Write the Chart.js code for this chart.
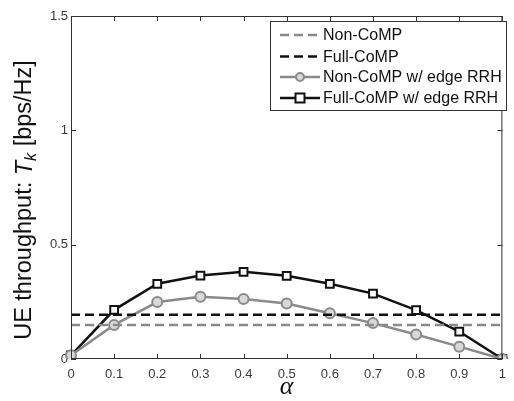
<!DOCTYPE html>
<html>
<head>
<meta charset="utf-8">
<script src="https://cdn.jsdelivr.net/npm/chart.js@4"></script>
<style>
  html, body { margin: 0; padding: 0; background: #fff; }
  #wrap { width: 514px; height: 401px; }
</style>
</head>
<body>
<div id="wrap"><canvas id="c" width="514" height="401"></canvas></div>
<script>
// alpha values along the x axis
const alphas = ['0', '0.1', '0.2', '0.3', '0.4', '0.5', '0.6', '0.7', '0.8', '0.9', '1'];
const yTickLabels = { 0: '0', 0.5: '0.5', 1: '1', 1.5: '1.5' };

// UE throughput T_k [bps/Hz]
const nonCoMP = [0.149, 0.149, 0.149, 0.149, 0.149, 0.149, 0.149, 0.149, 0.149, 0.149, 0.149];
const fullCoMP = [0.193, 0.193, 0.193, 0.193, 0.193, 0.193, 0.193, 0.193, 0.193, 0.193, 0.193];
const nonCoMPEdge = [0.016, 0.149, 0.249, 0.272, 0.262, 0.243, 0.200, 0.157, 0.107, 0.054, 0.0];
const fullCoMPEdge = [0.016, 0.215, 0.329, 0.365, 0.381, 0.364, 0.329, 0.286, 0.214, 0.120, 0.0];

const GRAY = '#8a8a8a';
const BLACK = '#111111';
const FONT = "'Liberation Sans', Arial, sans-serif";

// frame, inward tick marks, axis titles and boxed legend
const matlabFrame = {
  id: 'matlabFrame',
  afterDraw(chart) {
    const { ctx, chartArea: a, scales } = chart;
    const xs = scales.x, ys = scales.y;
    ctx.save();
    ctx.strokeStyle = '#333';
    ctx.lineWidth = 1;
    ctx.strokeRect(a.left + 0.5, a.top + 0.5, a.right - a.left - 1, a.bottom - a.top - 1);
    const tl = 5;
    ctx.beginPath();
    alphas.forEach((_, i) => {
      const px = Math.round(xs.getPixelForValue(i)) + 0.5;
      ctx.moveTo(px, a.bottom); ctx.lineTo(px, a.bottom - tl);
      ctx.moveTo(px, a.top); ctx.lineTo(px, a.top + tl);
    });
    Object.keys(yTickLabels).forEach(v => {
      const py = Math.round(ys.getPixelForValue(+v)) + 0.5;
      ctx.moveTo(a.left, py); ctx.lineTo(a.left + tl, py);
      ctx.moveTo(a.right, py); ctx.lineTo(a.right - tl, py);
    });
    ctx.stroke();

    // y axis title: UE throughput: T_k [bps/Hz]
    ctx.save();
    ctx.translate(25, 200);
    ctx.rotate(-Math.PI / 2);
    ctx.fillStyle = '#111';
    ctx.textBaseline = 'middle';
    const parts = [
      { t: 'UE throughput: ', f: `23.5px ${FONT}`, dy: 0 },
      { t: 'T', f: `italic 23.5px ${FONT}`, dy: 0 },
      { t: 'k', f: `italic 16px ${FONT}`, dy: 7 },
      { t: ' [bps/Hz]', f: `23.5px ${FONT}`, dy: 0 }
    ];
    let total = 0;
    parts.forEach(p => { ctx.font = p.f; p.w = ctx.measureText(p.t).width; total += p.w; });
    let x = -total / 2;
    parts.forEach(p => { ctx.font = p.f; ctx.fillText(p.t, x, p.dy); x += p.w; });
    ctx.restore();

    // x axis title
    ctx.fillStyle = '#111';
    ctx.font = `italic 26px 'Liberation Serif', 'DejaVu Serif', serif`;
    ctx.textAlign = 'center';
    ctx.textBaseline = 'middle';
    ctx.fillText('\u03b1', (a.left + a.right) / 2, 387);

    // legend
    const lx = 270, ly = 21, lw = 236, lh = 89;
    ctx.fillStyle = '#fff';
    ctx.fillRect(lx, ly, lw, lh);
    ctx.strokeStyle = '#333';
    ctx.lineWidth = 1;
    ctx.strokeRect(lx + 0.5, ly + 0.5, lw, lh);
    const rows = [35, 56.5, 77, 98];
    chart.data.datasets.forEach((ds, i) => {
      const y = rows[i];
      ctx.save();
      ctx.strokeStyle = ds.borderColor;
      ctx.lineWidth = ds.borderWidth;
      ctx.setLineDash(ds.borderDash || []);
      ctx.beginPath();
      ctx.moveTo(280, y); ctx.lineTo(320, y);
      ctx.stroke();
      ctx.setLineDash([]);
      if (ds.pointRadius > 0) {
        ctx.fillStyle = ds.pointBackgroundColor;
        ctx.strokeStyle = ds.pointBorderColor;
        ctx.lineWidth = ds.pointBorderWidth;
        ctx.beginPath();
        if (ds.pointStyle === 'rect') {
          const r = 4.5;
          ctx.rect(300 - r, y - r, 2 * r, 2 * r);
        } else {
          ctx.arc(300, y, 4, 0, Math.PI * 2);
        }
        ctx.fill(); ctx.stroke();
      }
      ctx.restore();
      ctx.fillStyle = '#111';
      ctx.font = `16px ${FONT}`;
      ctx.textAlign = 'left';
      ctx.textBaseline = 'middle';
      ctx.fillText(ds.label, 323, y + 1);
    });
    ctx.restore();
  }
};

new Chart(document.getElementById('c'), {
  type: 'line',
  data: {
    labels: alphas,
    datasets: [
      {
        label: 'Non-CoMP', data: nonCoMP,
        borderColor: GRAY, borderWidth: 2.5, borderDash: [9, 5],
        pointRadius: 0, pointHoverRadius: 0
      },
      {
        label: 'Full-CoMP', data: fullCoMP,
        borderColor: BLACK, borderWidth: 2.5, borderDash: [9, 5],
        pointRadius: 0, pointHoverRadius: 0
      },
      {
        label: 'Non-CoMP w/ edge RRH', data: nonCoMPEdge,
        borderColor: GRAY, borderWidth: 2.5,
        pointStyle: 'circle', pointRadius: 5,
        pointBackgroundColor: '#d8d8d8', pointBorderColor: GRAY, pointBorderWidth: 2
      },
      {
        label: 'Full-CoMP w/ edge RRH', data: fullCoMPEdge,
        borderColor: BLACK, borderWidth: 2.5,
        pointStyle: 'rect', pointRadius: 5.5,
        pointBackgroundColor: '#ffffff', pointBorderColor: BLACK, pointBorderWidth: 2
      }
    ]
  },
  options: {
    responsive: false,
    animation: false,
    layout: { padding: { left: 0, right: 3, top: 16, bottom: 0 } },
    plugins: { legend: { display: false }, tooltip: { enabled: false } },
    scales: {
      x: {
        type: 'category', offset: false,
        grid: { display: false, drawTicks: false },
        border: { display: false },
        ticks: {
          color: '#3a3a3a', padding: 8, autoSkip: false, maxRotation: 0,
          font: { family: FONT, size: 13 }
        },
        afterFit(scale) { scale.height = 42; }
      },
      y: {
        min: 0, max: 1.5,
        grid: { display: false, drawTicks: false },
        border: { display: false },
        ticks: {
          stepSize: 0.5, color: '#3a3a3a', padding: 3,
          font: { family: FONT, size: 13 },
          callback: v => yTickLabels[v]
        },
        afterFit(scale) { scale.width = 71; }
      }
    }
  },
  plugins: [matlabFrame]
});
</script>
</body>
</html>
